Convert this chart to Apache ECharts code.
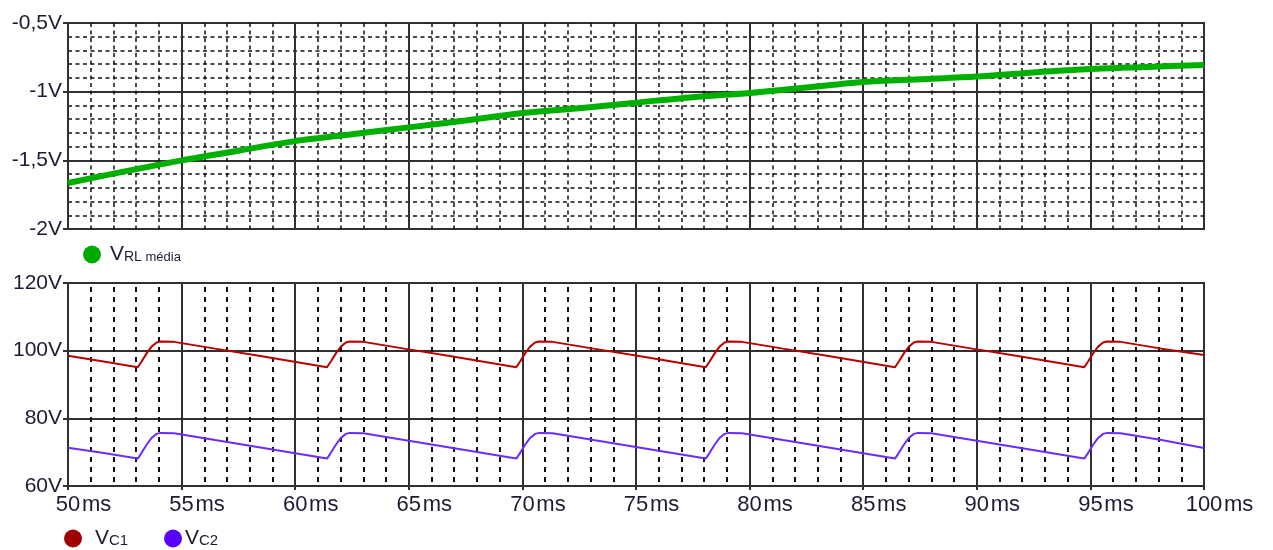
<!DOCTYPE html>
<html>
<head>
<meta charset="utf-8">
<script src="https://cdn.jsdelivr.net/npm/echarts@6/dist/echarts.min.js"></script>
<style>
  html, body { margin: 0; padding: 0; background: #ffffff; }
  #chart { width: 1273px; height: 550px; }
</style>
</head>
<body>
<div id="chart"></div>
<script>
// Time axis (ms) shared by both panels
const timeTicksMs = [50, 55, 60, 65, 70, 75, 80, 85, 90, 95, 100];

// Tick labels of the two voltage axes
const vrlTickValues = [-2, -1.5, -1, -0.5];
const vrlTickLabels = ['-2V', '-1,5V', '-1V', '-0,5V'];
const vcTickValues = [60, 80, 100, 120];
const vcTickLabels = ['60V', '80V', '100V', '120V'];

// Average load voltage V_RL (média), [ms, V]
const vrlMedia = [
  [50, -1.665], [52.5, -1.58], [55, -1.50], [57.5, -1.43], [60, -1.36],
  [62.5, -1.31], [65, -1.26], [67.5, -1.21], [70, -1.155], [72.5, -1.12],
  [75, -1.08], [77.5, -1.04], [80, -1.01], [82.5, -0.97], [85, -0.93],
  [87.5, -0.91], [90, -0.89], [92.5, -0.86], [95, -0.835], [97.5, -0.82],
  [100, -0.805]
];

// Capacitor C1 voltage, [ms, V]
const vc1 = [
  [50, 98.5], [51.5, 96.9],
  [53.07, 95.1], [53.24, 96.8], [53.46, 99.2], [53.68, 101.2], [53.90, 102.4], [54.07, 102.7], [54.67, 102.6], [56.47, 100.6], [58.47, 98.4],
  [61.40, 95.1], [61.57, 96.8], [61.79, 99.2], [62.01, 101.2], [62.23, 102.4], [62.40, 102.7], [63.00, 102.6], [64.80, 100.6], [66.80, 98.4],
  [69.73, 95.1], [69.90, 96.8], [70.12, 99.2], [70.34, 101.2], [70.56, 102.4], [70.73, 102.7], [71.33, 102.6], [73.13, 100.6], [75.13, 98.4],
  [78.07, 95.1], [78.24, 96.8], [78.46, 99.2], [78.68, 101.2], [78.90, 102.4], [79.07, 102.7], [79.67, 102.6], [81.47, 100.6], [83.47, 98.4],
  [86.40, 95.1], [86.57, 96.8], [86.79, 99.2], [87.01, 101.2], [87.23, 102.4], [87.40, 102.7], [88.00, 102.6], [89.80, 100.6], [91.80, 98.4],
  [94.73, 95.1], [94.90, 96.8], [95.12, 99.2], [95.34, 101.2], [95.56, 102.4], [95.73, 102.7], [96.33, 102.6], [98.13, 100.6], [100, 98.7]
];

// Capacitor C2 voltage, [ms, V]
const vc2 = [
  [50, 71.3], [51.5, 69.8],
  [53.07, 68.1], [53.24, 69.8], [53.46, 72.2], [53.68, 74.2], [53.90, 75.4], [54.07, 75.7], [54.67, 75.6], [56.47, 73.6], [58.47, 71.4],
  [61.40, 68.1], [61.57, 69.8], [61.79, 72.2], [62.01, 74.2], [62.23, 75.4], [62.40, 75.7], [63.00, 75.6], [64.80, 73.6], [66.80, 71.4],
  [69.73, 68.1], [69.90, 69.8], [70.12, 72.2], [70.34, 74.2], [70.56, 75.4], [70.73, 75.7], [71.33, 75.6], [73.13, 73.6], [75.13, 71.4],
  [78.07, 68.1], [78.24, 69.8], [78.46, 72.2], [78.68, 74.2], [78.90, 75.4], [79.07, 75.7], [79.67, 75.6], [81.47, 73.6], [83.47, 71.4],
  [86.40, 68.1], [86.57, 69.8], [86.79, 72.2], [87.01, 74.2], [87.23, 75.4], [87.40, 75.7], [88.00, 75.6], [89.80, 73.6], [91.80, 71.4],
  [94.73, 68.1], [94.90, 69.8], [95.12, 72.2], [95.34, 74.2], [95.56, 75.4], [95.73, 75.7], [96.33, 75.6], [98.13, 73.6], [100, 71.2]
];

const FONT = '"Liberation Sans", Arial, sans-serif';
const TEXT = '#1c1c34';
const GRID_DARK = '#303030';

function labelFor(values, labels, v) {
  for (let i = 0; i < values.length; i++) {
    if (Math.abs(values[i] - v) < 1e-6) return labels[i];
  }
  return '';
}

const minorDash = { color: '#111', width: 1.5, type: [4, 3.5] };

const chart = echarts.init(document.getElementById('chart'), null, { renderer: 'canvas' });

chart.setOption({
  animation: false,
  backgroundColor: '#ffffff',
  grid: [
    { left: 68, top: 23, width: 1136, height: 206, show: true, borderColor: GRID_DARK, borderWidth: 2, backgroundColor: 'transparent' },
    { left: 68, top: 283, width: 1136, height: 203, show: true, borderColor: GRID_DARK, borderWidth: 2, backgroundColor: 'transparent' }
  ],
  xAxis: [
    {
      gridIndex: 0, type: 'value',
      min: timeTicksMs[0], max: timeTicksMs[timeTicksMs.length - 1], interval: 5,
      axisLine: { show: false }, axisTick: { show: false }, axisLabel: { show: false },
      splitLine: { show: true, lineStyle: { color: GRID_DARK, width: 2 } },
      minorTick: { show: false, splitNumber: 5 },
      minorSplitLine: { show: true, lineStyle: minorDash }
    },
    {
      gridIndex: 1, type: 'value',
      min: timeTicksMs[0], max: timeTicksMs[timeTicksMs.length - 1], interval: 5,
      axisLine: { show: false },
      axisTick: { show: true, length: 4, inside: false, lineStyle: { color: GRID_DARK, width: 2 } },
      axisLabel: {
        show: true, margin: 8,
        formatter: function (v) { return '{p|}{n|' + v + '}{u|ms}'; },
        rich: {
          p: { width: 31 },
          n: { fontFamily: FONT, fontSize: 22, color: TEXT },
          u: { width: 31, align: 'right', fontFamily: FONT, fontSize: 22, color: TEXT }
        }
      },
      splitLine: { show: true, lineStyle: { color: GRID_DARK, width: 2 } },
      minorTick: { show: false, splitNumber: 5 },
      minorSplitLine: { show: true, lineStyle: { color: '#111', width: 2, type: [5, 5], dashOffset: -4 } }
    }
  ],
  yAxis: [
    {
      gridIndex: 0, type: 'value',
      min: vrlTickValues[0], max: vrlTickValues[vrlTickValues.length - 1], interval: 0.5,
      axisLine: { show: false },
      axisTick: { show: true, length: 5, lineStyle: { color: GRID_DARK, width: 2 } },
      axisLabel: {
        margin: 6, fontFamily: FONT, fontSize: 21, color: TEXT,
        formatter: function (v) { return labelFor(vrlTickValues, vrlTickLabels, v); }
      },
      splitLine: { show: true, lineStyle: { color: GRID_DARK, width: 2 } },
      minorTick: { show: false, splitNumber: 5 },
      minorSplitLine: { show: true, lineStyle: minorDash }
    },
    {
      gridIndex: 1, type: 'value',
      min: vcTickValues[0], max: vcTickValues[vcTickValues.length - 1], interval: 20,
      axisLine: { show: false },
      axisTick: { show: true, length: 5, lineStyle: { color: GRID_DARK, width: 2 } },
      axisLabel: {
        margin: 6, fontFamily: FONT, fontSize: 21, color: TEXT, padding: [0, 0, 4, 0],
        formatter: function (v) { return labelFor(vcTickValues, vcTickLabels, v); }
      },
      splitLine: { show: true, lineStyle: { color: GRID_DARK, width: 2 } }
    }
  ],
  legend: [
    {
      data: ['VRL média'], left: 83, top: 244, padding: 0,
      icon: 'circle', itemWidth: 18, itemHeight: 18, itemGap: 0,
      selectedMode: false,
      formatter: function () { return '{v|V}{s|RL}{m| média}'; },
      textStyle: {
        padding: [0, 0, 0, 4],
        rich: {
          v: { fontFamily: FONT, fontSize: 21, color: TEXT },
          s: { fontFamily: FONT, fontSize: 14, color: TEXT, verticalAlign: 'bottom', padding: [0, 0, 1, 0] },
          m: { fontFamily: FONT, fontSize: 13, color: TEXT, verticalAlign: 'bottom', padding: [0, 0, 1, 0] }
        }
      }
    },
    {
      data: ['Vc1'], left: 64, top: 528, padding: 0,
      icon: 'circle', itemWidth: 18, itemHeight: 18,
      selectedMode: false,
      formatter: function () { return '{v|V}{s|C1}'; },
      textStyle: {
        padding: [0, 0, 0, 8],
        rich: {
          v: { fontFamily: FONT, fontSize: 21, color: TEXT },
          s: { fontFamily: FONT, fontSize: 15, color: TEXT, verticalAlign: 'bottom', padding: [0, 0, 1, 0] }
        }
      }
    },
    {
      data: ['Vc2'], left: 164, top: 528, padding: 0,
      icon: 'circle', itemWidth: 18, itemHeight: 18,
      selectedMode: false,
      formatter: function () { return '{v|V}{s|C2}'; },
      textStyle: {
        padding: [0, 0, 0, -2],
        rich: {
          v: { fontFamily: FONT, fontSize: 21, color: TEXT },
          s: { fontFamily: FONT, fontSize: 15, color: TEXT, verticalAlign: 'bottom', padding: [0, 0, 1, 0] }
        }
      }
    }
  ],
  series: [
    {
      name: 'VRL média', type: 'line', xAxisIndex: 0, yAxisIndex: 0,
      data: vrlMedia, showSymbol: false, smooth: 0.3, clip: true,
      lineStyle: { color: '#00b000', width: 6 },
      itemStyle: { color: '#00aa00' },
      z: 5
    },
    {
      name: 'Vc1', type: 'line', xAxisIndex: 1, yAxisIndex: 1,
      data: vc1, showSymbol: false, clip: true,
      lineStyle: { color: '#b80000', width: 2 },
      itemStyle: { color: '#a00000' },
      z: 5
    },
    {
      name: 'Vc2', type: 'line', xAxisIndex: 1, yAxisIndex: 1,
      data: vc2, showSymbol: false, clip: true,
      lineStyle: { color: '#6a2cff', width: 2 },
      itemStyle: { color: '#5a00ff' },
      z: 5
    }
  ]
});
</script>
</body>
</html>
